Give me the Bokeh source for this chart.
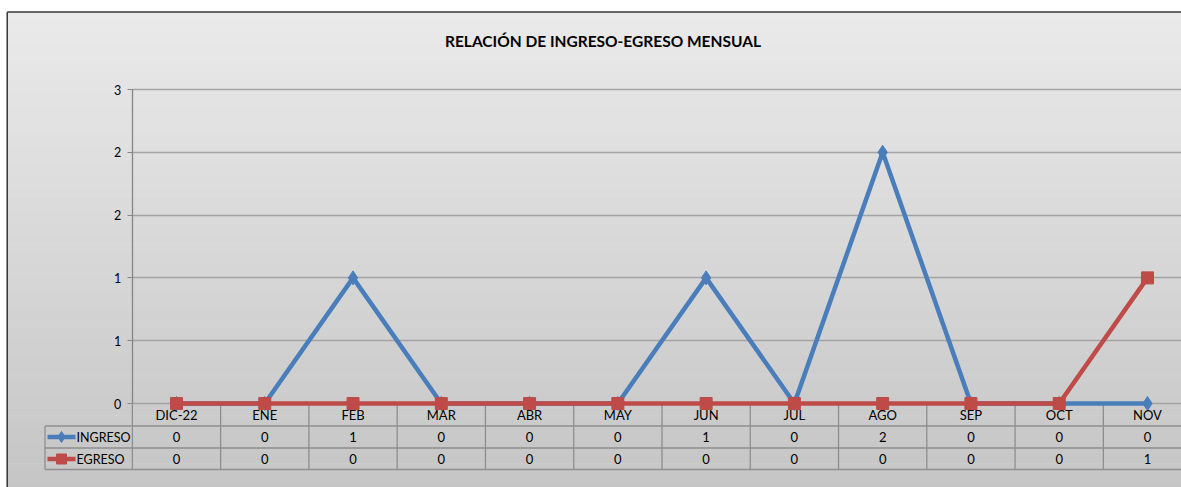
from bokeh.plotting import figure
from bokeh.models import Range1d, FixedTicker, LinearAxis, Grid
from bokeh.core.properties import value
from bokeh.embed import file_html
from bokeh.resources import INLINE

# ---------------- data ----------------
categories = ["DIC-22", "ENE", "FEB", "MAR", "ABR", "MAY", "JUN", "JUL", "AGO", "SEP", "OCT", "NOV"]
ingreso = [0, 0, 1, 0, 0, 0, 1, 0, 2, 0, 0, 0]
egreso = [0, 0, 0, 0, 0, 0, 0, 0, 0, 0, 0, 1]
y_ticks = [0, 0.5, 1, 1.5, 2, 2.5]
y_labels = ["0", "1", "1", "2", "2", "3"]
series_names = ["INGRESO", "EGRESO"]
title_text = "RELACIÓN DE INGRESO-EGRESO MENSUAL"

# ---------------- layout (page pixels) ----------------
W, H = 1181, 487
OX, OY = 0, 0
X0_PAGE, DX = 176.0, 88.27   # page x of first category, px per category
Y0_PAGE, DY = 403.0, 125.6   # page y of value 0, px per unit


def dx(px):
    return (px - X0_PAGE) / DX


def dy(py):
    return (Y0_PAGE - py) / DY


FONT = "Lato"
BLUE = "#4a7ebb"
RED = "#be4b48"
GRID_C = "#a3a3a3"
TABLE_C = "#8e8e8e"

p = figure(width=W, height=H, output_backend="svg", toolbar_location=None,
           x_axis_type=None, y_axis_type=None,
           x_range=Range1d(dx(OX), dx(OX + W)), y_range=Range1d(dy(OY + H), dy(OY)),
           min_border=0, outline_line_color=None,
           background_fill_color="white", border_fill_color="white")

# gradient chart background
left_px, top_py, bot_py = 6.0, 11.0, 490.0
n = 70
c_top, c_bot = 234, 197
lefts, rights, tops, bottoms, cols = [], [], [], [], []
for i in range(n):
    y1 = top_py + (bot_py - top_py) * i / n
    y2 = top_py + (bot_py - top_py) * (i + 1) / n + 0.6
    t = (i + 0.5) / n
    c = int(round(c_top + (c_bot - c_top) * t))
    lefts.append(dx(left_px))
    rights.append(dx(OX + W + 2))
    tops.append(dy(y1))
    bottoms.append(dy(y2))
    cols.append("#%02x%02x%02x" % (c, c, c))
bg = p.quad(left=lefts, right=rights, top=tops, bottom=bottoms, fill_color=cols, line_color=None)
bg.level = "image"

# chart border (top and left)
p.segment(x0=[dx(left_px + 0.75), dx(left_px + 0.75)], y0=[dy(11.5), dy(11.5)],
          x1=[dx(OX + W + 2), dx(left_px + 0.75)], y1=[dy(11.5), dy(OY + H + 2)],
          line_color="#3a3a3a", line_width=1.5)

# title
p.text(x=[dx(602.5)], y=[dy(40)], text=[title_text], text_font=value(FONT),
       text_font_style="bold", text_font_size="15.5px", text_color="#000000",
       text_align="center", text_baseline="middle")

# horizontal gridlines
plot_left = -0.5
grid = Grid(dimension=1, ticker=FixedTicker(ticks=y_ticks),
            grid_line_color=GRID_C, grid_line_width=1.3,
            cross_bounds=(plot_left, dx(OX + W + 2)))
p.add_layout(grid)

# y axis placed at the plot-area left edge
yaxis = LinearAxis(fixed_location=plot_left, bounds=(0, max(y_ticks)),
                   ticker=FixedTicker(ticks=y_ticks),
                   major_label_overrides={t: l for t, l in zip(y_ticks, y_labels)},
                   axis_line_color="#868686", axis_line_width=1.3,
                   major_tick_line_color="#868686", major_tick_in=0, major_tick_out=5,
                   minor_tick_line_color=None,
                   major_label_text_font=FONT, major_label_text_font_size="12.5px",
                   major_label_text_color="#000000", major_label_standoff=6)
p.add_layout(yaxis, "left")

# data table grid
n_cat = len(categories)
row_lines_py = [425.5, 447.5, 469.0]
tx0, tx1, ty0, ty1 = [], [], [], []
for py in row_lines_py:
    tx0.append(dx(44.5)); tx1.append(dx(OX + W + 2)); ty0.append(dy(py)); ty1.append(dy(py))
tx0.append(dx(44.5)); tx1.append(dx(44.5)); ty0.append(dy(425.5)); ty1.append(dy(469))
for k in range(n_cat + 1):
    xb = k - 0.5
    tx0.append(xb); tx1.append(xb); ty0.append(0); ty1.append(dy(469))
p.segment(x0=tx0, y0=ty0, x1=tx1, y1=ty1, line_color=TABLE_C, line_width=1.3)

xs = list(range(n_cat))

# series lines
p.line(xs, ingreso, line_color=BLUE, line_width=4.5)
p.scatter(xs, ingreso, marker="diamond", size=14, fill_color=BLUE, line_color=BLUE)
p.line(xs, egreso, line_color=RED, line_width=4.5)
p.scatter(xs, egreso, marker="square", size=12, fill_color=RED, line_color=RED)

# table texts
txt_kw = dict(text_font=value(FONT), text_font_size="13px", text_color="#000000",
              text_align="center", text_baseline="middle")
p.text(x=xs, y=[dy(414.5)] * n_cat, text=categories, **txt_kw)
p.text(x=xs, y=[dy(436.5)] * n_cat, text=[str(v) for v in ingreso], **txt_kw)
p.text(x=xs, y=[dy(458.5)] * n_cat, text=[str(v) for v in egreso], **txt_kw)

# legend keys in the table
row_py = [436.5, 458.5]
for name, col, mk, sz, py in zip(series_names, [BLUE, RED], ["diamond", "square"], [11, 10], row_py):
    p.segment(x0=[dx(47)], y0=[dy(py)], x1=[dx(75)], y1=[dy(py)], line_color=col, line_width=4.5)
    p.scatter([dx(61)], [dy(py)], marker=mk, size=sz, fill_color=col, line_color=col)
    p.text(x=[dx(76)], y=[dy(py)], text=[name], text_font=value(FONT), text_font_size="12.5px",
           text_color="#000000", text_align="left", text_baseline="middle")

open("out.html", "w").write(file_html(p, INLINE))
